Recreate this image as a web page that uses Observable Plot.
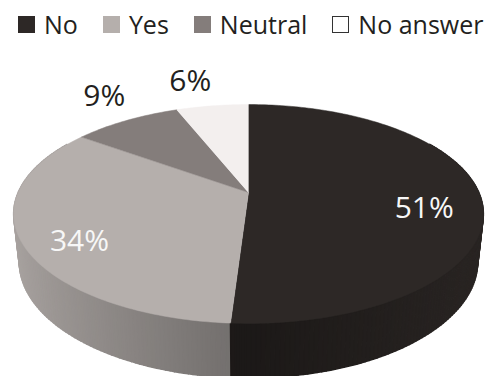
<!DOCTYPE html>
<html>
<head>
<meta charset="utf-8">
<script src="https://cdn.jsdelivr.net/npm/d3@7"></script>
<script src="https://cdn.jsdelivr.net/npm/@observablehq/plot@0.6"></script>
<style>
  body { margin: 0; background: #fff; }
  #legend { display: flex; align-items: center; height: 48px; padding-left: 18px; white-space: nowrap;
    font-family: "Open Sans", sans-serif; font-size: 25px; color: #231f20; }
  .item { display: flex; align-items: center; margin-right: 25px; flex-shrink: 0; }
  .sw { width: 17px; height: 17px; margin-right: 9px; box-sizing: border-box; }
</style>
</head>
<body>
<div id="legend"></div>
<div id="chart"></div>
<script>
// ---- data ----
const categories = ["No", "Yes", "Neutral", "No answer"];
const values = [51, 34, 9, 6];
const labels = ["51%", "34%", "9%", "6%"];
// ---- styles ----
const palette = ["#2d2826", "#b5afac", "#847d7b", "#f3efee"];
const labelColors = ["#f7f7f7", "#f7f7f7", "#231f20", "#231f20"];
const inside = [true, true, false, false];

// legend
const leg = document.getElementById("legend");
categories.forEach((c, i) => {
  const it = document.createElement("div"); it.className = "item";
  const sw = document.createElement("div"); sw.className = "sw";
  sw.style.background = i === 3 ? "#ffffff" : palette[i];
  if (i === 3) sw.style.border = "1.5px solid #333";
  const t = document.createElement("span"); t.textContent = c;
  it.appendChild(sw); it.appendChild(t); leg.appendChild(it);
});

// 3D perspective projection of a disk (radius 1, thickness H)
const S = 0.457, C = Math.sqrt(1 - S * S), D = 4.53, H = 0.235;
function project(theta, r, level) {
  const X = r * Math.sin(theta), Z = r * Math.cos(theta), Y = level;
  const up = Z * S + Y * C;
  const depth = D + Z * C - Y * S;
  return [X * D / depth, -up * D / depth];
}

const total = d3.sum(values);
let cum = 0;
const slices = values.map((v, i) => {
  const a0 = 2 * Math.PI * cum / total; cum += v;
  const a1 = 2 * Math.PI * cum / total;
  return {i, a0, a1};
});

function shade(hex, k) {
  const c = d3.rgb(hex);
  return d3.rgb(c.r * k, c.g * k, c.b * k).formatHex();
}

const topPts = [];
const sidePts = [];
const strips = [];
slices.forEach(({i, a0, a1}) => {
  const n = Math.max(2, Math.ceil((a1 - a0) * 180 / Math.PI));
  const [cx, cy] = project(0, 0, 0);
  topPts.push({id: "t" + i, x: cx, y: cy, fill: palette[i]});
  for (let j = 0; j <= n; j++) {
    const t = a0 + (a1 - a0) * j / n;
    const [x, y] = project(t, 1, 0);
    topPts.push({id: "t" + i, x, y, fill: palette[i]});
  }
  for (let j = 0; j < n; j++) {
    const t1 = a0 + (a1 - a0) * j / n, t2 = a0 + (a1 - a0) * (j + 1) / n;
    const tm = (t1 + t2) / 2;
    if (Math.cos(tm) > 0.5) continue;
    const k = 0.62 + 0.32 * Math.abs(Math.sin(tm));
    strips.push({id: `s${i}_${j}`, depth: Math.cos(tm), fill: shade(palette[i], k),
      pts: [project(t1, 1, 0), project(t2, 1, 0), project(t2, 1, -H), project(t1, 1, -H)]});
  }
});
strips.sort((a, b) => b.depth - a.depth);
strips.forEach((s, order) => s.pts.forEach(([x, y]) =>
  sidePts.push({id: s.id, order, x, y, fill: s.fill})));

const labelPts = slices.map(({i, a0, a1}) => {
  const m = (a0 + a1) / 2;
  const [x, y] = project(m, inside[i] ? 0.76 : 1, 0);
  return {x, y, label: labels[i], color: labelColors[i], inside: inside[i]};
});

const f = 1043 / D;
const cxPix = 248, cyPix = 144;
const chart = Plot.plot({
  width: 491, height: 328,
  margin: 0,
  x: {domain: [-1, 1], range: [cxPix - f, cxPix + f], axis: null},
  y: {domain: [-1, 1], range: [cyPix - f, cyPix + f], axis: null},
  color: {type: "identity"},
  marks: [
    Plot.line(sidePts, {x: "x", y: "y", z: "id", fill: "fill", stroke: "fill", strokeWidth: 1.6}),
    Plot.line(topPts, {x: "x", y: "y", z: "id", fill: "fill", stroke: "fill", strokeWidth: 0.5}),
    Plot.text(labelPts.filter(d => d.inside), {x: "x", y: "y", text: "label", fill: "color",
      dy: 13, fontSize: 30, fontFamily: "Open Sans"}),
    Plot.text(labelPts.filter(d => !d.inside), {x: "x", y: "y", text: "label", fill: "color",
      dx: -22, dy: -24, fontSize: 30, fontFamily: "Open Sans"})
  ]
});
document.getElementById("chart").appendChild(chart);
</script>
</body>
</html>
